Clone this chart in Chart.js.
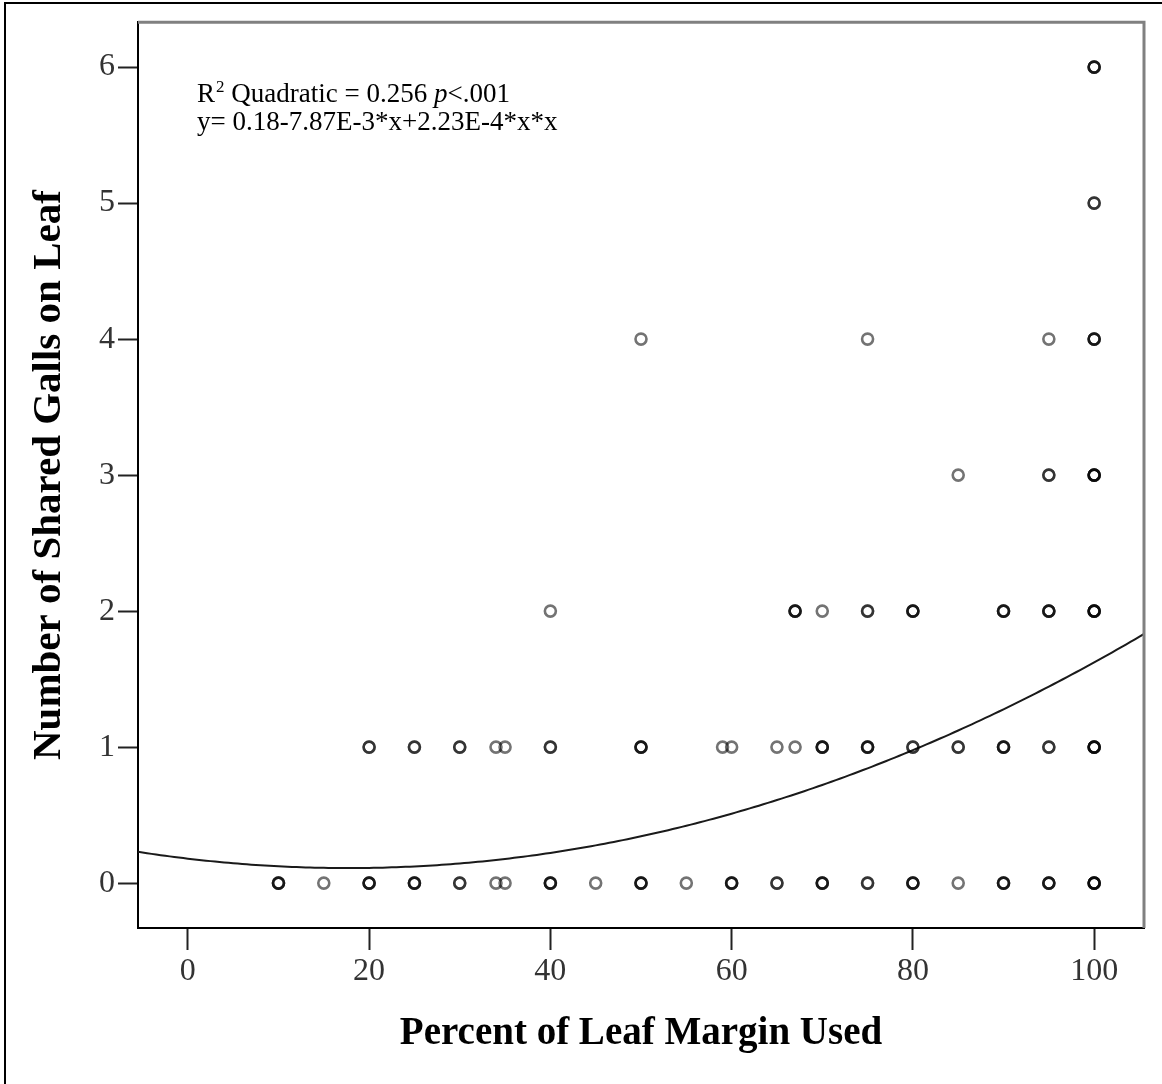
<!DOCTYPE html>
<html>
<head>
<meta charset="utf-8">
<script src="https://cdn.jsdelivr.net/npm/chart.js@4.4.1/dist/chart.umd.min.js"></script>
<style>
  html, body { margin: 0; padding: 0; background: #fff; }
  canvas { display: block; }
</style>
</head>
<body>
<canvas id="gallChart" width="1162" height="1084"></canvas>
<script>
// percent of leaf margin used, one entry per leaf, grouped by number of shared galls
const galls0 = [10,10,10, 15, 20,20,20, 25,25,25, 30,30, 34, 35, 40,40,40, 45, 50,50,50, 55,
                60,60,60, 65,65, 70,70,70, 75,75, 80,80,80, 85, 90,90,90, 95,95,95, 100,100,100,100];
const galls1 = [20,20, 25,25, 30,30, 34, 35, 40,40, 50,50,50, 59, 60, 65, 67, 70,70,70, 75,75,75,
                80,80, 85,85, 90,90,90, 95,95, 100,100,100,100];
const galls2 = [40, 67,67,67, 70, 75,75, 80,80,80, 90,90,90, 95,95,95, 100,100,100,100];
const galls3 = [85, 95,95, 100,100,100,100];
const galls4 = [50, 75, 95, 100,100,100];
const galls5 = [100,100];
const galls6 = [100,100,100];

const gallCounts = [0, 1, 2, 3, 4, 5, 6];
const xTicks = [0, 20, 40, 60, 80, 100];
const yTicks = [0, 1, 2, 3, 4, 5, 6];

// quadratic fit: y = b0 + b1*x + b2*x*x
const fitCoef = [0.18, -7.87e-3, 2.23e-4];
const xRange = [-5.5, 105.5];
const yRange = [-0.33, 6.33];

const rows = [galls0, galls1, galls2, galls3, galls4, galls5, galls6];
const leafPoints = rows.flatMap((xs, i) => xs.map(x => ({ x: x, y: gallCounts[i] })));

const fitLine = [];
for (let x = xRange[0]; x <= xRange[1] + 1e-9; x += 0.5) {
  fitLine.push({ x: x, y: fitCoef[0] + fitCoef[1] * x + fitCoef[2] * x * x });
}

const serif = '"Liberation Serif", "Times New Roman", serif';

// outer frame, grey top/right edges of the plot box and the fit annotation
const framePlugin = {
  id: 'frame',
  beforeDraw(chart) {
    const ctx = chart.ctx;
    ctx.save();
    ctx.fillStyle = '#fff';
    ctx.fillRect(0, 0, chart.width, chart.height);
    ctx.strokeStyle = '#000';
    ctx.lineWidth = 2;
    ctx.beginPath();
    ctx.moveTo(5, chart.height + 5);
    ctx.lineTo(5, 3);
    ctx.lineTo(chart.width + 5, 3);
    ctx.stroke();
    ctx.restore();
  },
  afterDraw(chart) {
    const { ctx, chartArea: a } = chart;
    ctx.save();
    ctx.strokeStyle = '#808080';
    ctx.lineWidth = 3;
    ctx.beginPath();
    ctx.moveTo(a.left, a.top);
    ctx.lineTo(a.right, a.top);
    ctx.lineTo(a.right, a.bottom);
    ctx.stroke();

    ctx.fillStyle = '#000';
    ctx.textBaseline = 'alphabetic';
    let x = 197;
    const y1 = 102, y2 = 130;
    ctx.font = '27px ' + serif;
    ctx.fillText('R', x, y1);
    x += ctx.measureText('R').width;
    ctx.font = '17px ' + serif;
    ctx.fillText('2', x + 1, y1 - 10);
    x += ctx.measureText('2').width + 1;
    ctx.font = '27px ' + serif;
    const mid = ' Quadratic = 0.256 ';
    ctx.fillText(mid, x, y1);
    x += ctx.measureText(mid).width;
    ctx.font = 'italic 27px ' + serif;
    ctx.fillText('p', x, y1);
    x += ctx.measureText('p').width;
    ctx.font = '27px ' + serif;
    ctx.fillText('<.001', x, y1);
    ctx.fillText('y= ' + fitCoef[0] + '-7.87E-3*x+2.23E-4*x*x', 197, y2);
    ctx.restore();
  }
};

new Chart(document.getElementById('gallChart'), {
  type: 'scatter',
  data: {
    datasets: [
      {
        data: leafPoints,
        pointStyle: 'circle',
        pointRadius: 5.5,
        pointBorderWidth: 2.6,
        pointBorderColor: 'rgba(0,0,0,0.55)',
        pointBackgroundColor: 'rgba(0,0,0,0)',
        showLine: false
      },
      {
        type: 'line',
        data: fitLine,
        borderColor: '#1a1a1a',
        borderWidth: 2,
        pointRadius: 0,
        fill: false,
        tension: 0
      }
    ]
  },
  options: {
    responsive: false,
    animation: false,
    devicePixelRatio: 1,
    layout: { padding: { left: 0, top: 20, right: 18, bottom: 0 } },
    plugins: { legend: { display: false }, tooltip: { enabled: false } },
    scales: {
      x: {
        type: 'linear',
        min: xRange[0],
        max: xRange[1],
        afterBuildTicks: s => { s.ticks = xTicks.map(v => ({ value: v })); },
        afterFit: s => { s.height = 156; },
        border: { color: '#000', width: 2 },
        grid: { drawOnChartArea: false, drawTicks: true, tickLength: 22, tickWidth: 2, tickColor: '#222' },
        ticks: { font: { family: serif, size: 32 }, color: '#333', padding: 2, autoSkip: false, maxRotation: 0 },
        title: {
          display: true,
          text: 'Percent of Leaf Margin Used',
          font: { family: serif, size: 39, weight: 'bold' },
          color: '#000',
          padding: { top: 0, bottom: 27 }
        }
      },
      y: {
        type: 'linear',
        min: yRange[0],
        max: yRange[1],
        afterBuildTicks: s => { s.ticks = yTicks.map(v => ({ value: v })); },
        afterFit: s => { s.width = 138; },
        border: { color: '#000', width: 2 },
        grid: { drawOnChartArea: false, drawTicks: true, tickLength: 20, tickWidth: 2, tickColor: '#222' },
        ticks: { font: { family: serif, size: 32 }, color: '#333', padding: 3, autoSkip: false },
        title: {
          display: true,
          text: 'Number of Shared Galls on Leaf',
          font: { family: serif, size: 41, weight: 'bold' },
          color: '#000',
          padding: { top: 25, bottom: 0 }
        }
      }
    }
  },
  plugins: [framePlugin]
});
</script>
</body>
</html>
